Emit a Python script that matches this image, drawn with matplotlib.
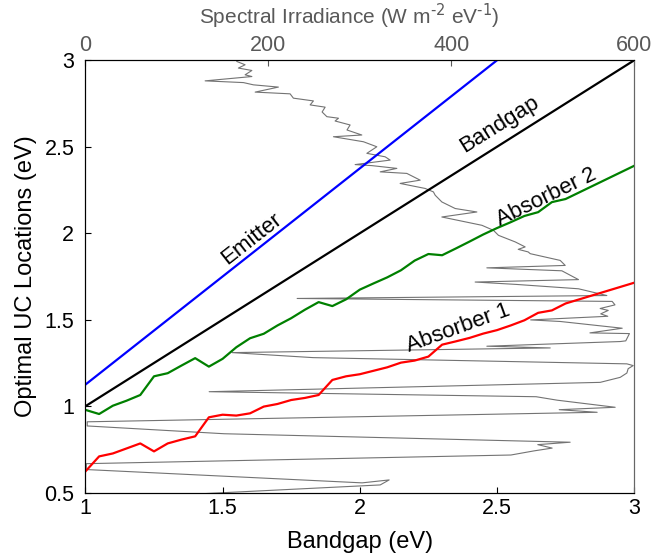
import matplotlib
matplotlib.use("Agg")
import matplotlib.pyplot as plt

plt.rcParams["font.family"] = ["Liberation Sans", "DejaVu Sans"]
plt.rcParams["font.size"] = 15.5

# bandgap (eV) and optimal upconversion energies (eV)
bandgap_x = [1.0, 3.0]
bandgap_y = [1.0, 3.0]
emitter_x = [1.0, 2.5]
emitter_y = [1.125, 3.0]

abs2_x = [1.0, 1.05, 1.1, 1.15, 1.2, 1.25, 1.3, 1.35, 1.4, 1.45, 1.5, 1.55, 1.6, 1.65,
          1.7, 1.75, 1.8, 1.85, 1.9, 1.95, 2.0, 2.05, 2.1, 2.15, 2.2, 2.25, 2.3, 2.35,
          2.4, 2.45, 2.5, 2.55, 2.6, 2.65, 2.7, 2.75, 3.0]
abs2_y = [0.979, 0.955, 1.003, 1.032, 1.065, 1.173, 1.191, 1.235, 1.278, 1.229, 1.274,
          1.341, 1.393, 1.419, 1.467, 1.509, 1.558, 1.602, 1.579, 1.618, 1.674, 1.71,
          1.745, 1.786, 1.842, 1.880, 1.873, 1.912, 1.952, 1.993, 2.030, 2.064, 2.100,
          2.122, 2.180, 2.198, 2.39]

abs1_x = [1.0, 1.05, 1.1, 1.15, 1.2, 1.25, 1.3, 1.35, 1.4, 1.45, 1.5, 1.55, 1.6, 1.65,
          1.7, 1.75, 1.8, 1.85, 1.9, 1.95, 2.0, 2.05, 2.1, 2.15, 2.2, 2.25, 2.3, 2.35,
          2.4, 2.45, 2.5, 2.55, 2.6, 2.65, 2.7, 2.75, 3.0]
abs1_y = [0.623, 0.710, 0.727, 0.756, 0.785, 0.739, 0.785, 0.807, 0.826, 0.936, 0.951,
          0.946, 0.959, 0.998, 1.013, 1.036, 1.048, 1.065, 1.152, 1.173, 1.185, 1.205,
          1.225, 1.252, 1.264, 1.287, 1.356, 1.375, 1.395, 1.420, 1.440, 1.467, 1.497,
          1.540, 1.554, 1.594, 1.714]

# solar spectrum: photon energy (eV) vs spectral irradiance (W m^-2 eV^-1)
spec_E = [2.993, 2.974, 2.955, 2.941, 2.916, 2.906, 2.881, 2.871, 2.858, 2.845, 2.816,
          2.806, 2.781, 2.765, 2.742, 2.729, 2.701, 2.674, 2.665, 2.649, 2.626, 2.597,
          2.568, 2.558, 2.529, 2.500, 2.462, 2.442, 2.423, 2.397, 2.391, 2.375, 2.355,
          2.346, 2.307, 2.288, 2.259, 2.239, 2.220, 2.181, 2.143, 2.123, 2.094, 2.046,
          2.017, 1.988, 1.950, 1.921, 1.907, 1.892, 1.882, 1.843, 1.814, 1.800, 1.783,
          1.732, 1.718, 1.704, 1.679, 1.640, 1.623, 1.606, 1.586, 1.565, 1.554, 1.534,
          1.520, 1.499, 1.490, 1.451, 1.424, 1.420, 1.378, 1.374, 1.347, 1.337, 1.310,
          1.281, 1.245, 1.235, 1.217, 1.192, 1.167, 1.138, 1.084, 1.055, 1.035, 0.994,
          0.980, 0.965, 0.910, 0.886, 0.841, 0.792, 0.778, 0.758, 0.742, 0.718, 0.668,
          0.634, 0.591, 0.557, 0.574, 0.545, 0.487]
spec_irr = [165.6, 174.6, 167.3, 182.0, 174.6, 182.0, 130.9, 172.8, 183.7, 211.0, 185.6,
            223.8, 227.4, 249.3, 245.7, 262.1, 258.8, 264.0, 276.7, 273.0, 289.4, 286.0,
            302.2, 271.2, 304.0, 318.6, 307.7, 327.7, 333.2, 294.9, 313.2, 340.5, 322.3,
            351.4, 366.0, 344.1, 371.5, 380.5, 382.4, 389.7, 404.3, 428.0, 389.7, 433.5,
            446.1, 451.6, 469.9, 480.8, 473.2, 484.1, 486.3, 519.1, 524.6, 438.9, 520.9,
            539.1, 426.1, 471.7, 539.1, 570.1, 231.5, 575.9, 579.0, 562.8, 571.6, 563.4,
            571.1, 486.8, 519.1, 586.9, 551.6, 594.8, 590.8, 584.7, 438.9, 508.2, 160.4,
            249.0, 592.0, 598.9, 593.4, 592.0, 584.7, 562.8, 135.3, 492.8, 515.8, 579.2,
            518.0, 559.5, 2.0, 2.0, 151.7, 530.0, 494.6, 510.3, 490.6, 465.2, 1.0,
            1.0, 169.2, 302.6, 332.1, 322.3, 100.3]

fig = plt.figure(figsize=(6.62, 5.53), dpi=100)
ax = fig.add_axes([0.129, 0.109, 0.829, 0.782])
ax2 = ax.twiny()

ax2.plot(spec_irr, spec_E, color="0.45", lw=0.8)
ax2.set_xlim(0, 600)
ax2.set_xticks([0, 200, 400, 600])
ax2.tick_params(axis="x", direction="in", colors="0.35", length=4, pad=3)
ax2.set_xlabel(r"Spectral Irradiance (W m$^{\text{-2}}$ eV$^{\text{-1}}$)",
               color="0.35", fontsize=15, labelpad=8)
ax2.xaxis.label.set_x(0.48)

# keep the spectrum behind the UC lines
ax.set_zorder(ax2.get_zorder() + 1)
ax.patch.set_visible(False)

ax.plot(emitter_x, emitter_y, color="blue", lw=1.6)
ax.plot(bandgap_x, bandgap_y, color="black", lw=1.6)
ax.plot(abs2_x, abs2_y, color="green", lw=1.6)
ax.plot(abs1_x, abs1_y, color="red", lw=1.6)

ax.text(1.605, 1.97, "Emitter", rotation=38, ha="center", va="center", fontsize=16)
ax.text(2.51, 2.63, "Bandgap", rotation=32, ha="center", va="center", fontsize=16)
ax.text(2.68, 2.21, "Absorber 2", rotation=26, ha="center", va="center", fontsize=16)
ax.text(2.357, 1.45, "Absorber 1", rotation=20, ha="center", va="center", fontsize=16)

ax.set_xlim(1, 3)
ax.set_ylim(0.5, 3)
ax.set_xticks([1, 1.5, 2, 2.5, 3])
ax.set_xticklabels(["1", "1.5", "2", "2.5", "3"])
ax.set_yticks([0.5, 1, 1.5, 2, 2.5, 3])
ax.set_yticklabels(["0.5", "1", "1.5", "2", "2.5", "3"])
ax.tick_params(direction="in", length=4)
ax.tick_params(axis="y", pad=8)
ax.set_xlabel("Bandgap (eV)", fontsize=17, labelpad=9)
ax.set_ylabel("Optimal UC Locations (eV)", fontsize=17, labelpad=5)

for a in (ax, ax2):
    a.spines["right"].set_color("0.4")

plt.savefig("out.png", dpi=100)
plt.close()
